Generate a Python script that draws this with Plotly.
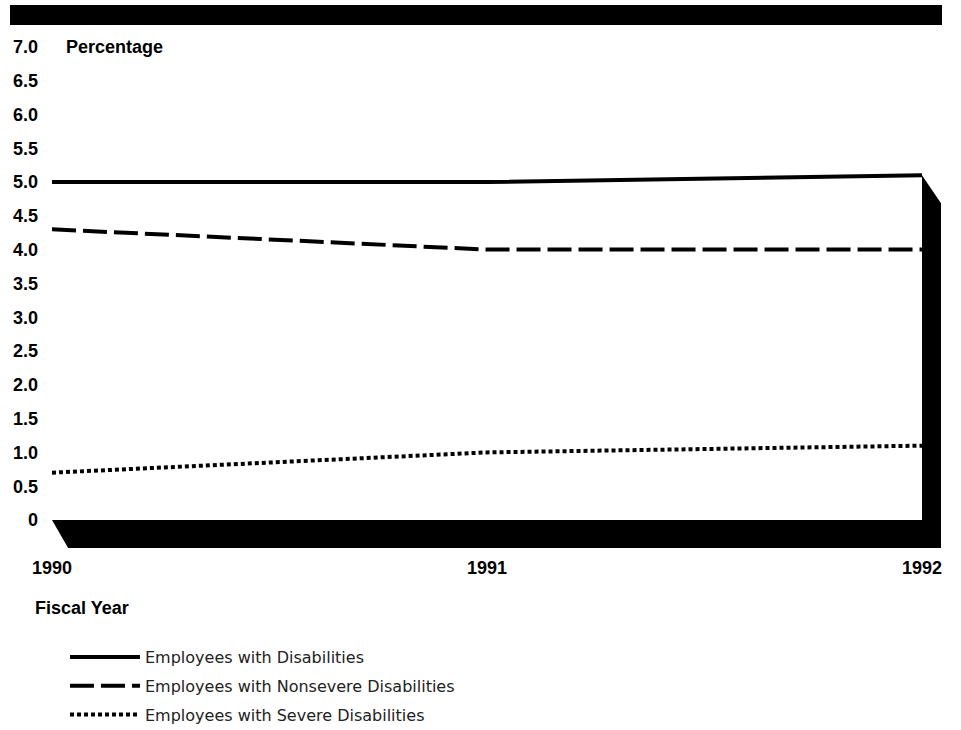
import plotly.graph_objects as go

years = [1990, 1991, 1992]
all_disab = [5.0, 5.0, 5.1]
nonsevere = [4.3, 4.0, 4.0]
severe = [0.7, 1.0, 1.1]
series_names = ["Employees with Disabilities",
                "Employees with Nonsevere Disabilities",
                "Employees with Severe Disabilities"]
y_ticks = [0, 0.5, 1.0, 1.5, 2.0, 2.5, 3.0, 3.5, 4.0, 4.5, 5.0, 5.5, 6.0, 6.5, 7.0]
y_ticktext = ["0", "0.5", "1.0", "1.5", "2.0", "2.5", "3.0", "3.5", "4.0", "4.5",
              "5.0", "5.5", "6.0", "6.5", "7.0"]
x_ticktext = ["1990", "1991", "1992"]

# layout geometry (pixels)
W, H = 961, 730
L, R, T, B = 52, 16, 40, 180
plot_w = W - L - R
plot_h = H - T - B
px_per_year = 435.0
px_per_unit = 67.6
x_range = [1990, 1990 + plot_w / px_per_year]
y_range = [-(550 - 520) / px_per_unit, (520 - 40) / px_per_unit]

dx = 19 / px_per_year
dy = 28 / px_per_unit


def py(p):
    """pixel row -> paper y"""
    return (T + plot_h - p) / plot_h


def px(p):
    """pixel column -> paper x"""
    return (p - L) / plot_w


fig = go.Figure()
styles = [dict(dash="solid", width=4),
          dict(dash="24px,7px", width=4),
          dict(dash="4px,3px", width=4)]
for i, (vals, st) in enumerate(zip([all_disab, nonsevere, severe], styles)):
    fig.add_trace(go.Scatter(
        x=years, y=vals, mode="lines", name=series_names[i],
        legendgroup=f"g{i}",
        line=dict(color="black", width=st["width"], dash=st["dash"]),
        hoverinfo="x+y+name"))

# 3D base slab and right-side shadow, derived from data
x0, x1 = years[0], years[-1]
ytop = all_disab[-1]
path = (f"M {x0},0 L {x1},0 L {x1},{ytop} L {x1+dx},{ytop-dy} "
        f"L {x1+dx},{-dy} L {x0+dx*0.85},{-dy} Z")
shapes = [
    dict(type="path", path=path, xref="x", yref="y",
         fillcolor="black", line=dict(color="black", width=0), layer="below"),
    # top black band
    dict(type="rect", xref="paper", yref="paper",
         x0=px(10), x1=px(942), y0=py(25), y1=py(5),
         fillcolor="black", line=dict(width=0)),
]

bold = dict(family="Liberation Sans, Arial, sans-serif", size=18, color="black", weight="bold")

fig.update_layout(
    width=W, height=H,
    margin=dict(l=L, r=R, t=T, b=B, autoexpand=False),
    paper_bgcolor="white", plot_bgcolor="white",
    shapes=shapes,
    showlegend=True,
    legend=dict(x=px(65), y=py(640),
                xanchor="left", yanchor="top",
                font=dict(family="DejaVu Sans, sans-serif", size=16, color="#222"),
                tracegroupgap=5, itemwidth=70, bgcolor="rgba(0,0,0,0)"),
    xaxis=dict(range=x_range, tickvals=years, ticktext=x_ticktext,
               showgrid=False, zeroline=False, showline=False, ticks="",
               tickfont=bold, ticklabelstandoff=5, fixedrange=True),
    yaxis=dict(range=y_range, tickvals=y_ticks, ticktext=y_ticktext,
               showgrid=False, zeroline=False, showline=False, ticks="",
               tickfont=bold, ticklabelstandoff=13, fixedrange=True),
    annotations=[
        dict(text="Percentage", xref="paper", yref="paper",
             x=px(64), y=py(47),
             xanchor="left", yanchor="middle", showarrow=False, font=bold),
        dict(text="Fiscal Year", xref="paper", yref="paper",
             x=px(33), y=py(608),
             xanchor="left", yanchor="middle", showarrow=False, font=bold),
    ],
)

fig.write_html("out.html", config={"displayModeBar": False})

# remove the default page margin so the figure fills the window exactly
with open("out.html", "r", encoding="utf-8") as f:
    html = f.read()
html = html.replace("<body>", '<body style="margin:0;overflow:hidden">', 1)
with open("out.html", "w", encoding="utf-8") as f:
    f.write(html)
